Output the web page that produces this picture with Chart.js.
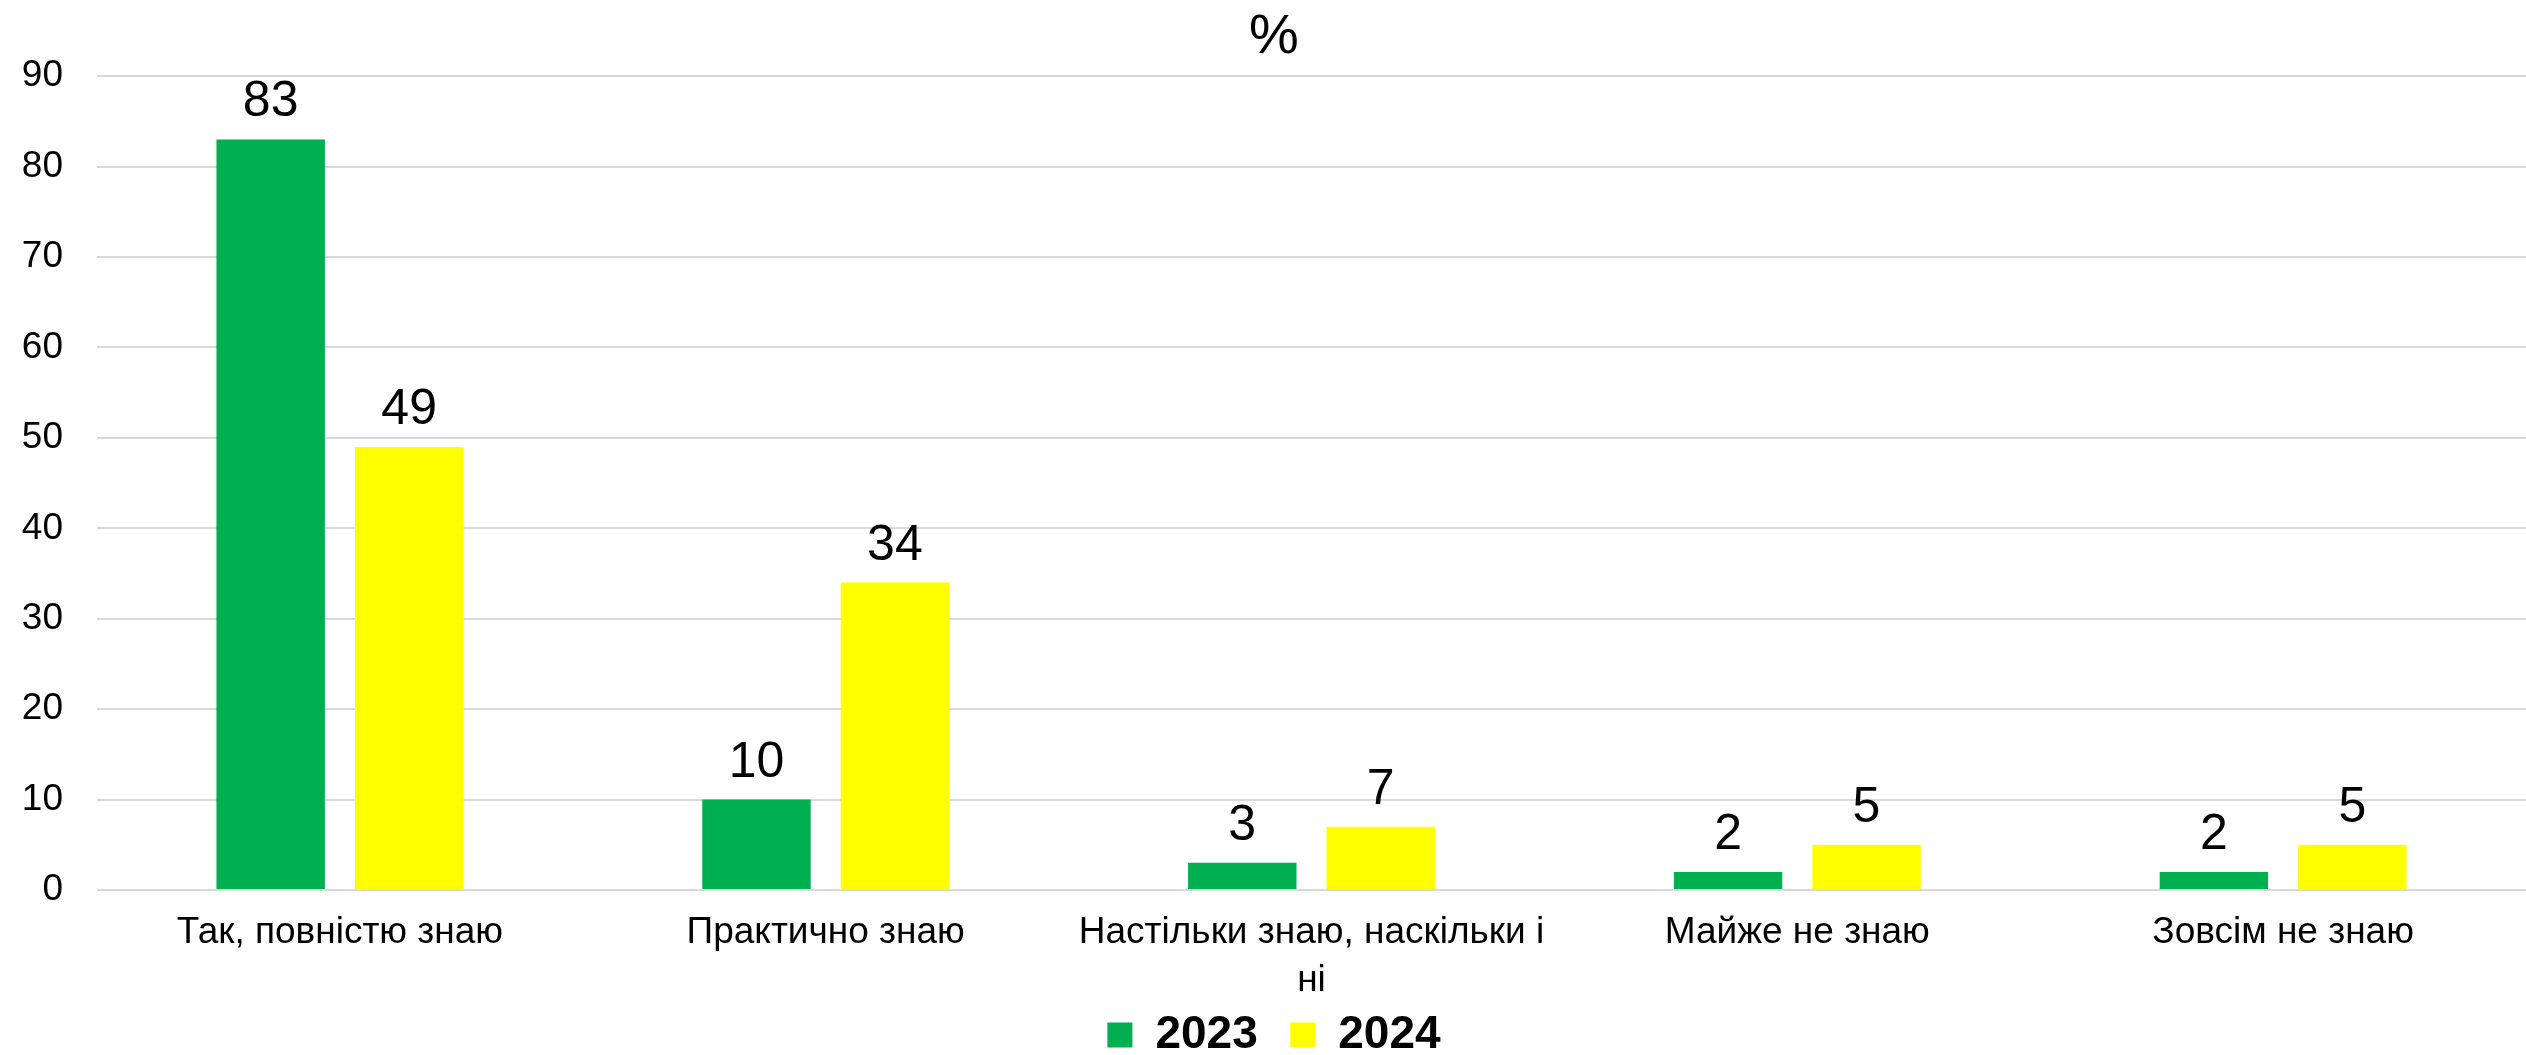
<!DOCTYPE html>
<html>
<head>
<meta charset="utf-8">
<script src="https://cdn.jsdelivr.net/npm/chart.js@4/dist/chart.umd.min.js"></script>
<style>
  html, body { margin: 0; padding: 0; background: #ffffff; }
  #wrap { width: 2526px; height: 1055px; position: relative; }
</style>
</head>
<body>
<div id="wrap"><canvas id="c"></canvas></div>
<script>
const categories = [
  'Так, повністю знаю',
  'Практично знаю',
  ['Настільки знаю, наскільки і', 'ні'],
  'Майже не знаю',
  'Зовсім не знаю'
];
const series2023 = [83, 10, 3, 2, 2];
const series2024 = [49, 34, 7, 5, 5];
const seriesNames = ['2023', '2024'];
const yTicks = [0, 10, 20, 30, 40, 50, 60, 70, 80, 90];
const chartTitle = '%';

const FONT = "'Liberation Sans', Arial, sans-serif";

const valueLabels = {
  id: 'valueLabels',
  afterDatasetsDraw(chart) {
    const ctx = chart.ctx;
    ctx.save();
    ctx.font = '50px ' + FONT;
    ctx.fillStyle = '#000000';
    ctx.textAlign = 'center';
    ctx.textBaseline = 'alphabetic';
    chart.data.datasets.forEach((ds, di) => {
      const meta = chart.getDatasetMeta(di);
      meta.data.forEach((el, i) => {
        ctx.fillText(String(ds.data[i]), el.x, el.y - 23);
      });
    });
    ctx.restore();
  }
};

new Chart(document.getElementById('c'), {
  type: 'bar',
  data: {
    labels: categories,
    datasets: [
      { label: seriesNames[0], data: series2023, backgroundColor: '#00b050', borderWidth: 0 },
      { label: seriesNames[1], data: series2024, backgroundColor: '#ffff00', borderWidth: 0 }
    ]
  },
  options: {
    responsive: true,
    maintainAspectRatio: false,
    animation: false,
    devicePixelRatio: 1,
    categoryPercentage: 0.57,
    barPercentage: 0.783,
    layout: { padding: { left: 22, right: 0, top: 0, bottom: -13 } },
    plugins: {
      title: {
        display: true,
        text: chartTitle,
        color: '#000000',
        font: { family: FONT, size: 56, weight: 'normal', lineHeight: 1.2 },
        padding: { top: 4, bottom: 5 }
      },
      legend: {
        display: true,
        position: 'bottom',
        labels: {
          color: '#000000',
          font: { family: FONT, size: 46, weight: 'bold' },
          boxWidth: 25,
          boxHeight: 25,
          padding: 7,
          generateLabels(chart) {
            const items = Chart.defaults.plugins.legend.labels.generateLabels(chart);
            items.forEach((it, i) => {
              if (i < items.length - 1) it.text = it.text + '\u00A0\u00A0';
            });
            return items;
          }
        }
      },
      tooltip: { enabled: false }
    },
    scales: {
      x: {
        grid: { display: false, drawTicks: false },
        border: { display: false },
        ticks: {
          color: '#000000',
          font: { family: FONT, size: 37, lineHeight: 1.3 },
          padding: 19,
          maxRotation: 0,
          autoSkip: false
        },
        afterFit(scale) { scale.height = 115; }
      },
      y: {
        min: 0,
        max: 90,
        afterBuildTicks(scale) { scale.ticks = yTicks.map(v => ({ value: v })); },
        grid: { color: '#d9d9d9', lineWidth: 2, drawTicks: false },
        border: { display: false },
        ticks: {
          color: '#000000',
          font: { family: FONT, size: 37 },
          padding: 34,
          stepSize: 10
        },
        afterFit(scale) { scale.width = 75; }
      }
    }
  },
  plugins: [valueLabels]
});
</script>
</body>
</html>
